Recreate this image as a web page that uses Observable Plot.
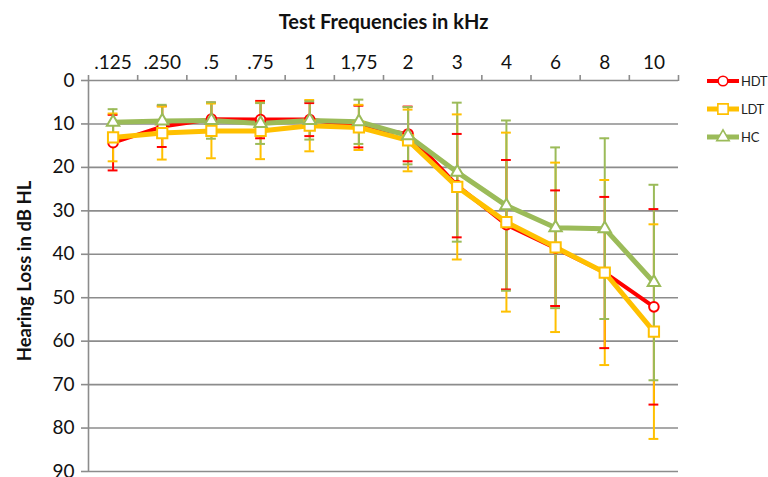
<!DOCTYPE html>
<html>
<head>
<meta charset="utf-8">
<script src="https://cdn.jsdelivr.net/npm/d3@7"></script>
<script src="https://cdn.jsdelivr.net/npm/@observablehq/plot@0.6"></script>
<style>
  html, body { margin: 0; padding: 0; background: #fff; }
  #wrap { position: relative; width: 768px; height: 477px; overflow: hidden; }
  #legend { position: absolute; left: 705px; top: 70px; font-family: Lato, "Liberation Sans", sans-serif; font-size: 13px; color: #222; }
  .lg-item { position: absolute; left: 0; height: 22px; width: 63px; }
  .lg-item svg { position: absolute; left: 0; top: 0; }
  .lg-item span { position: absolute; left: 36px; top: 3px; letter-spacing: -0.3px; }
</style>
</head>
<body>
<div id="wrap"><div id="legend"></div></div>
<script>
// ---- data ----
const freqs = [".125", ".250", ".5", ".75", "1", "1,75", "2", "3", "4", "6", "8", "10"];
const seriesNames = ["HDT", "LDT", "HC"];
const hdtMean = [14.3, 10.6, 8.9, 9.0, 9.0, 10.6, 12.3, 24.2, 33.2, 38.6, 44.2, 52.1];
const hdtSD   = [6.4, 4.7, 3.8, 4.3, 3.8, 4.8, 6.3, 11.9, 14.9, 13.3, 17.4, 22.5];
const ldtMean = [13.1, 12.1, 11.6, 11.6, 10.4, 10.8, 13.8, 24.5, 32.6, 38.4, 44.2, 57.8];
const ldtSD   = [5.5, 6.1, 6.3, 6.5, 5.9, 5.2, 7.1, 16.7, 20.6, 19.5, 21.3, 24.7];
const hcMean  = [9.6, 9.3, 9.2, 9.9, 9.2, 9.5, 12.7, 21.1, 28.8, 33.9, 34.1, 46.5];
const hcSD    = [3.0, 3.7, 4.2, 4.7, 4.4, 5.1, 6.6, 16.0, 19.6, 18.5, 20.8, 22.5];
const yTicks = [0, 10, 20, 30, 40, 50, 60, 70, 80, 90];
const xTitle = "Test Frequencies in kHz";
const yTitle = "Hearing Loss in dB HL";

// ---- styles ----
const colors = ["#ff0000", "#ffc000", "#9bbb59"];
const symbols = ["circle", "square", "triangle"];
const radii = [4.8, 5.8, 4.6];
const lineWidths = [4, 5, 5];
const gray = "#8c8c8c";
const font = "Lato, 'Liberation Sans', sans-serif";

const means = [hdtMean, ldtMean, hcMean];
const sds = [hdtSD, ldtSD, hcSD];
const rows = seriesNames.flatMap((s, k) => means[k].map((m, i) => ({series: s, i, mean: m, sd: sds[k][i]})));
const bySeries = seriesNames.map(s => rows.filter(d => d.series === s));

const marks = [
  Plot.ruleY(yTicks, {stroke: gray, strokeWidth: 1.6}),
  Plot.ruleX([-0.5], {stroke: gray, strokeWidth: 1.6}),
  Plot.axisY({ticks: yTicks, tickSize: 7, tickPadding: 7, stroke: gray, strokeWidth: 1.6, fill: "#111", fontSize: 19, label: null}),
  Plot.axisX({anchor: "top", ticks: d3.range(-0.5, 12, 1), tickSize: 6, tickFormat: () => "", stroke: gray, strokeWidth: 1.6, label: null}),
  Plot.axisX({anchor: "top", ticks: d3.range(freqs.length), tickSize: 0, tickPadding: 12, tickFormat: i => freqs[i], fill: "#111", fontSize: 19, label: null}),
  Plot.text([xTitle], {frameAnchor: "top", dy: -58, lineAnchor: "middle", fontWeight: "bold", fontSize: 20, fill: "#111"}),
  Plot.text([yTitle], {frameAnchor: "left", dx: -63, dy: -5, rotate: -90, textAnchor: "middle", lineAnchor: "middle", fontWeight: "bold", fontSize: 18.5, fill: "#111"}),
  // error bars
  Plot.ruleX(rows, {x: "i", y1: d => d.mean - d.sd, y2: d => d.mean + d.sd, stroke: "series", strokeWidth: 2}),
  Plot.ruleY(rows, {y: d => d.mean - d.sd, x1: d => d.i - 0.1, x2: d => d.i + 0.1, stroke: "series", strokeWidth: 2}),
  Plot.ruleY(rows, {y: d => d.mean + d.sd, x1: d => d.i - 0.1, x2: d => d.i + 0.1, stroke: "series", strokeWidth: 2}),
  // lines
  ...bySeries.map((data, k) => Plot.line(data, {x: "i", y: "mean", stroke: colors[k], strokeWidth: lineWidths[k], strokeLinejoin: "round"})),
  // markers
  ...bySeries.map((data, k) => Plot.dot(data, {x: "i", y: "mean", symbol: symbols[k], r: radii[k], fill: "white", stroke: colors[k], strokeWidth: 2}))
];

const chart = Plot.plot({
  width: 768,
  height: 477,
  marginLeft: 88,
  marginRight: 90,
  marginTop: 80,
  marginBottom: 6,
  style: {fontFamily: font, fontSize: "19px", background: "white", color: "#111"},
  x: {type: "linear", domain: [-0.5, 11.5], axis: null},
  y: {domain: [0, 90], reverse: true, axis: null},
  color: {domain: seriesNames, range: colors},
  marks
});
document.getElementById("wrap").prepend(chart);

// legend
const legend = document.getElementById("legend");
const tops = [0, 28, 56];
seriesNames.forEach((s, k) => {
  const item = document.createElement("div");
  item.className = "lg-item";
  item.style.top = tops[k] + "px";
  const size = radii[k] * radii[k] * Math.PI;
  const sym = {circle: d3.symbolCircle, square: d3.symbolSquare, triangle: d3.symbolTriangle}[symbols[k]];
  const path = d3.symbol(sym, size)();
  item.innerHTML = `<svg width="36" height="22"><line x1="2" x2="34" y1="11" y2="11" stroke="${colors[k]}" stroke-width="${lineWidths[k]}"/><path transform="translate(18,11)" d="${path}" fill="white" stroke="${colors[k]}" stroke-width="1.6"/></svg><span>${s}</span>`;
  legend.appendChild(item);
});
</script>
</body>
</html>
